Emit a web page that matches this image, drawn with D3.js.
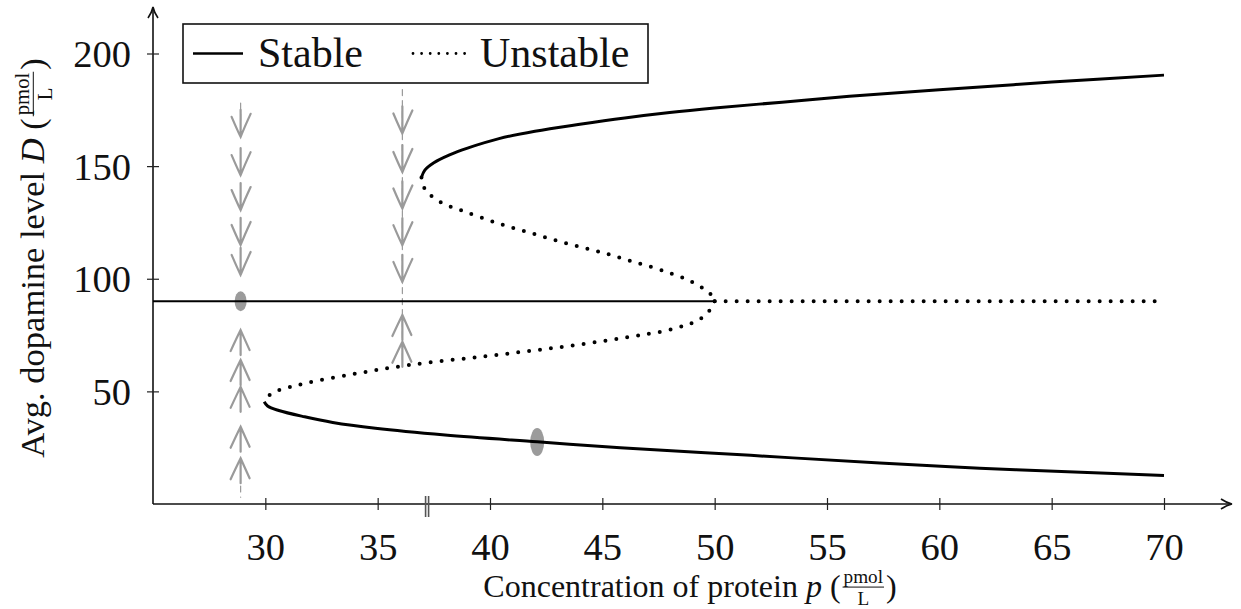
<!DOCTYPE html>
<html>
<head>
<meta charset="utf-8">
<script src="https://cdn.jsdelivr.net/npm/d3@7"></script>
<style>
  body { margin: 0; background: #fff; }
  svg { display: block; font-family: "Liberation Serif", "DejaVu Serif", serif; }
</style>
</head>
<body>
<div id="chart"></div>
<script>
// tick values
const pTicks = [30, 35, 40, 45, 50, 55, 60, 65, 70];
const dTicks = [50, 100, 150, 200];

// branches of the bifurcation diagram, [p, D]
const middleStable = [[25, 90], [50, 90]];
const middleUnstable = [[50, 90], [70, 90]];

const upperStable = [
  [36.95, 145], [37.1, 148.2], [37.5, 151.5], [38.2, 155], [39, 158], [40.4, 162.2],
  [42, 165.5], [44, 168.6], [46, 171.4], [48, 173.8], [50, 175.8], [53, 178.4],
  [56, 181], [60, 183.9], [65, 187.3], [70, 190.4]
];
const upperUnstable = [
  [36.95, 145], [37.0, 142], [37.2, 138.6], [37.8, 134], [38.9, 129.7], [40.4, 124.5],
  [41.9, 120.1], [43.4, 115.7], [44.9, 111.9], [46.4, 107.5], [47.85, 103.1],
  [49.0, 98.6], [49.6, 94.9], [49.92, 92], [50, 90]
];
const lowerUnstable = [
  [50, 90], [49.92, 88], [49.4, 82.4], [48.2, 77.9], [45.8, 73.5], [42.7, 69.1],
  [39.6, 65.4], [36.4, 61.7], [34.1, 58], [31.75, 53.5], [30.6, 50.5], [30.2, 48.4],
  [30.0, 46.5], [29.95, 45.4]
];
const lowerStable = [
  [29.95, 45.4], [30.1, 43.5], [30.6, 41.5], [31.75, 38.7], [33, 36.2], [34.9, 33.6],
  [38, 30.6], [42.1, 27.6], [45.8, 25.0], [51.6, 21.6], [57.35, 18.2], [61.8, 15.9],
  [66.3, 14.1], [70, 12.7]
];

// pencil notes on the scan
const downArrowTips = [
  [28.9, 163], [28.9, 146], [28.9, 130.5], [28.9, 115], [28.9, 101.7],
  [36.1, 164.5], [36.1, 147.4], [36.1, 131.2], [36.1, 114.9], [36.1, 98.6]
];
const upArrowTips = [
  [28.9, 77.2], [28.9, 63.9], [28.9, 52], [28.9, 34.3], [28.9, 20.3],
  [36.1, 83.9], [36.1, 72]
];
const pencilStems = [[36.1, 184, 63], [28.9, 178, 170], [28.9, 8, 3]];
const pencilDots = [[28.9, 90, 6, 10], [42.1, 27.5, 7, 14]];
const axisMarkP = 37.2;

const width = 1241;
const height = 609;

const svg = d3.select("#chart")
  .append("svg")
  .attr("width", width)
  .attr("height", height);

const x = d3.scaleLinear().domain([25, 70]).range([153, 1164]);
const y = d3.scaleLinear().domain([0, 200]).range([504, 53.5]);

const tickFont = 38.5;

// axis lines with open arrow heads
const axisG = svg.append("g").attr("stroke", "#111").attr("stroke-width", 1.6).attr("fill", "none");
axisG.append("line").attr("x1", x(25)).attr("x2", 1231).attr("y1", y(0)).attr("y2", y(0));
axisG.append("line").attr("x1", x(25)).attr("x2", x(25)).attr("y1", y(0)).attr("y2", 9);
axisG.append("path").attr("d", `M1221,${y(0) - 5} Q1227,${y(0) - 1} 1232,${y(0)} Q1227,${y(0) + 1} 1221,${y(0) + 5}`);
axisG.append("path").attr("d", `M${x(25) - 5},18 Q${x(25) - 1},12 ${x(25)},7 Q${x(25) + 1},12 ${x(25) + 5},18`);

// x axis ticks and labels
const xAxis = svg.append("g")
  .attr("transform", `translate(0,${y(0)})`)
  .call(d3.axisBottom(x).tickValues(pTicks).tickSize(6).tickFormat(d3.format("d")));
xAxis.select(".domain").remove();
xAxis.selectAll(".tick line").attr("y1", -6).attr("y2", 6).attr("stroke", "#222").attr("stroke-width", 1.2);
xAxis.selectAll(".tick text")
  .attr("y", 56).attr("dy", 0)
  .attr("font-size", tickFont)
  .attr("font-family", "Liberation Serif")
  .attr("fill", "#111");

// y axis ticks and labels
const yAxis = svg.append("g")
  .attr("transform", `translate(${x(25)},0)`)
  .call(d3.axisLeft(y).tickValues(dTicks).tickSize(6));
yAxis.select(".domain").remove();
yAxis.selectAll(".tick line").attr("x1", -6).attr("x2", 6).attr("stroke", "#222").attr("stroke-width", 1.2);
yAxis.selectAll(".tick text")
  .attr("x", -22).attr("dy", 13)
  .attr("font-size", tickFont)
  .attr("font-family", "Liberation Serif")
  .attr("fill", "#111");

// pencil annotations (drawn under the curves)
const pencil = svg.append("g")
  .attr("stroke", "#9a9a9a")
  .attr("stroke-width", 2.2)
  .attr("fill", "none")
  .attr("stroke-linecap", "round");

pencil.selectAll("line.stem")
  .data(pencilStems)
  .enter()
  .append("line")
  .attr("class", "stem")
  .attr("x1", d => x(d[0])).attr("x2", d => x(d[0]))
  .attr("y1", d => y(d[1])).attr("y2", d => y(d[2]))
  .attr("stroke-width", 1.2)
  .attr("stroke-dasharray", "6 5");

pencil.selectAll("path.down")
  .data(downArrowTips)
  .enter()
  .append("path")
  .attr("class", "down")
  .attr("d", d => {
    const px = x(d[0]), py = y(d[1]);
    return `M${px - 9},${py - 20} Q${px - 3},${py - 6} ${px},${py} Q${px + 4},${py - 10} ${px + 10},${py - 23} M${px},${py} L${px},${py - 27}`;
  });

pencil.selectAll("path.up")
  .data(upArrowTips)
  .enter()
  .append("path")
  .attr("class", "up")
  .attr("d", d => {
    const px = x(d[0]), py = y(d[1]);
    return `M${px - 10},${py + 21} Q${px - 4},${py + 8} ${px},${py} Q${px + 4},${py + 9} ${px + 9},${py + 20} M${px},${py} L${px},${py + 25}`;
  });

svg.append("g")
  .selectAll("ellipse")
  .data(pencilDots)
  .enter()
  .append("ellipse")
  .attr("cx", d => x(d[0]))
  .attr("cy", d => y(d[1]))
  .attr("rx", d => d[2])
  .attr("ry", d => d[3])
  .attr("fill", "#8a8a8a")
  .attr("opacity", 0.85);

// small double mark on the x axis
svg.append("path")
  .attr("d", `M${x(axisMarkP) - 1.5},${y(0) - 8} L${x(axisMarkP) - 1.5},${y(0) + 13} M${x(axisMarkP) + 1.5},${y(0) - 8} L${x(axisMarkP) + 1.5},${y(0) + 13}`)
  .attr("stroke", "#555")
  .attr("stroke-width", 1.6);

// branches
const line = d3.line()
  .x(d => x(d[0]))
  .y(d => y(d[1]))
  .curve(d3.curveCatmullRom.alpha(0.5));

const stableBranches = [middleStable, upperStable, lowerStable];
const unstableBranches = [middleUnstable, upperUnstable, lowerUnstable];

svg.append("g")
  .selectAll("path")
  .data(stableBranches)
  .enter()
  .append("path")
  .attr("d", line)
  .attr("fill", "none")
  .attr("stroke", "#000")
  .attr("stroke-width", d => d === middleStable ? 2 : 3);

svg.append("g")
  .selectAll("path")
  .data(unstableBranches)
  .enter()
  .append("path")
  .attr("d", line)
  .attr("fill", "none")
  .attr("stroke", "#000")
  .attr("stroke-width", 4)
  .attr("stroke-linecap", "round")
  .attr("stroke-dasharray", "0 11");

// legend box
const legend = svg.append("g");
legend.append("rect")
  .attr("x", 183).attr("y", 24)
  .attr("width", 465).attr("height", 59)
  .attr("fill", "#fff")
  .attr("stroke", "#111")
  .attr("stroke-width", 1.6);
legend.append("line")
  .attr("x1", 193).attr("x2", 243).attr("y1", 53.5).attr("y2", 53.5)
  .attr("stroke", "#000").attr("stroke-width", 2.4);
legend.append("text")
  .attr("x", 258).attr("y", 67)
  .attr("font-size", 42)
  .attr("fill", "#111")
  .text("Stable");
legend.append("line")
  .attr("x1", 413).attr("x2", 465).attr("y1", 53.5).attr("y2", 53.5)
  .attr("stroke", "#000").attr("stroke-width", 2.8)
  .attr("stroke-linecap", "round")
  .attr("stroke-dasharray", "0 8.6");
legend.append("text")
  .attr("x", 480).attr("y", 67)
  .attr("font-size", 42)
  .attr("fill", "#111")
  .text("Unstable");

// axis title with italic variable and a small pmol/L fraction
function unitLabel(g, pre, variable, size) {
  const inner = g.append("g");
  const t = inner.append("text").attr("font-size", size).attr("fill", "#111");
  t.append("tspan").text(pre);
  t.append("tspan").attr("font-style", "italic").text(variable);
  t.append("tspan").text(" (");
  const w = t.node().getComputedTextLength();
  const fs = size * 0.6;
  const num = inner.append("text")
    .attr("x", w + 3).attr("y", -size * 0.44)
    .attr("font-size", fs).attr("fill", "#111")
    .text("pmol");
  const nw = num.node().getComputedTextLength();
  inner.append("line")
    .attr("x1", w + 2).attr("x2", w + 4 + nw)
    .attr("y1", -size * 0.31).attr("y2", -size * 0.31)
    .attr("stroke", "#111").attr("stroke-width", 1);
  inner.append("text")
    .attr("x", w + 3 + nw / 2).attr("y", size * 0.235)
    .attr("text-anchor", "middle")
    .attr("font-size", fs).attr("fill", "#111")
    .text("L");
  const close = inner.append("text")
    .attr("x", w + 6 + nw)
    .attr("font-size", size).attr("fill", "#111")
    .text(")");
  const total = w + 6 + nw + close.node().getComputedTextLength();
  inner.attr("transform", `translate(${-total / 2},0)`);
}

// x axis title
unitLabel(svg.append("g").attr("transform", "translate(690,597)"),
  "Concentration of protein ", "p", 32);

// y axis title
unitLabel(svg.append("g").attr("transform", "translate(44,258) rotate(-90)"),
  "Avg. dopamine level ", "D", 34.5);
</script>
</body>
</html>
